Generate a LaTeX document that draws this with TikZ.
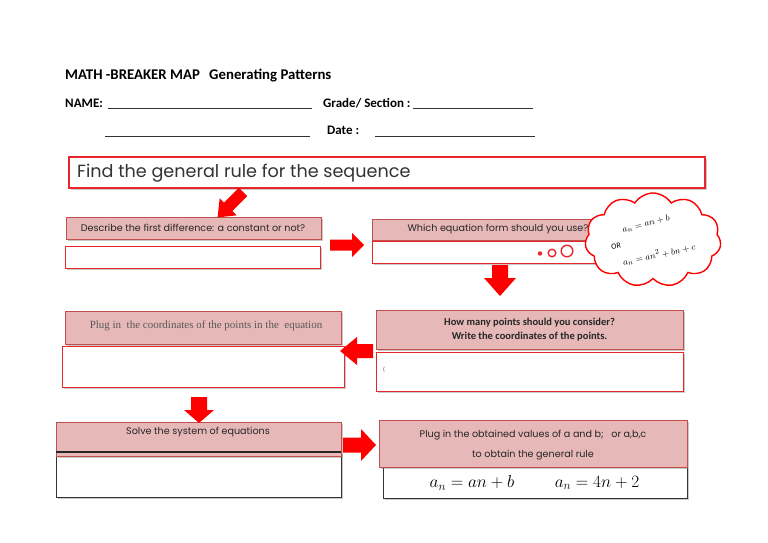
\documentclass[tikz,border=0pt]{standalone}
\usepackage{fontspec}
\setmainfont{Carlito}
\newfontfamily\gothic{Poppins}
\newfontfamily\serifgray{Liberation Serif}
\usetikzlibrary{shapes.symbols,shadows}
\definecolor{pinkfill}{HTML}{E6B8B7}
\definecolor{pinkline}{HTML}{C0504D}
\definecolor{boxred}{HTML}{E8262B}
\definecolor{arrowred}{HTML}{FF0000}
\newcommand\blockarrow[7]{%
  \fill[arrowred,shift={(#1,#2)},rotate=#3] (0,#7) -- ({#4-#5},#7) -- ({#4-#5},#6) -- (#4,0) -- ({#4-#5},-#6) -- ({#4-#5},-#7) -- (0,-#7) -- cycle;}
\begin{document}
\begin{tikzpicture}[x=1pt,y=-1pt,
  shd/.style={drop shadow={shadow xshift=1.5pt,shadow yshift=-1.5pt,opacity=0.35,fill=black!60}},
  boxbase/.style={anchor=north west,inner sep=0pt,outer sep=0pt},
  pinkbox/.style={boxbase,draw=pinkline,line width=1pt,fill=pinkfill,shd},
  whitebox/.style={boxbase,draw=boxred,line width=0.9pt,fill=white,shd},
  blackbox/.style={boxbase,draw=black!80,line width=1pt,fill=white,shd},
  hdr/.style={anchor=base west,inner sep=0pt,font=\bfseries\fontsize{14.8}{17}\selectfont},
  hdrs/.style={anchor=base west,inner sep=0pt,font=\bfseries\fontsize{13}{15}\selectfont},
  goth/.style={inner sep=0pt,font=\gothic\fontsize{9.6}{11}\selectfont,text=black!85},
  cal/.style={inner sep=0pt,font=\bfseries\fontsize{10.5}{14}\selectfont,align=center,text=black!85},
  uline/.style={line width=0.7pt,black!80}
]
\useasboundingbox (0,0) rectangle (768,543);
\fill[white] (0,0) rectangle (768,543);

% header
\node[hdr] (t1) at (65,80) {MATH -BREAKER MAP};
\node[hdr] (t2) at (209,80) {Generating Patterns};
\node[hdrs] (nm) at (65,107) {NAME:};
\coordinate (l1a) at (108,108); \coordinate (l1b) at (312,108);
\draw[uline] (l1a) -- (l1b);
\node[hdrs] (gs) at (323,107) {Grade/ Section :};
\coordinate (l2a) at (413,108); \coordinate (l2b) at (533,108);
\draw[uline] (l2a) -- (l2b);
\coordinate (l3a) at (105,136); \coordinate (l3b) at (310,136);
\draw[uline] (l3a) -- (l3b);
\node[hdrs] (dt) at (327,134) {Date :};
\coordinate (l4a) at (375,136); \coordinate (l4b) at (535,136);
\draw[uline] (l4a) -- (l4b);

% main box
\node[boxbase,draw=boxred,line width=1.8pt,fill=white,shd,minimum width=636pt,minimum height=31pt] (main) at (69,157) {};
\node[anchor=west,inner sep=0pt,font=\gothic\fontsize{17.6}{19}\selectfont,text=black!80] (maint) at (77,173) {Find the general rule for the sequence};

% row 1 left
\node[pinkbox,minimum width=255pt,minimum height=22pt] (desc) at (66,217) {};
\node[goth] at (193,228) {Describe the first difference: a constant or not?};
\node[whitebox,minimum width=255pt,minimum height=22pt] (descw) at (65,246) {};

% row 1 right
\node[pinkbox,minimum width=256pt,minimum height=21pt] (which) at (372,219) {};
\node[goth,anchor=center] at (498,229.5) {Which equation form should you use?};
\node[whitebox,minimum width=256pt,minimum height=22pt] (whichw) at (372,241) {};
\fill[boxred] (540,253.5) circle (2.2pt);
\draw[boxred,line width=1.4pt] (552,253) circle (3.8pt);
\draw[boxred,line width=1.4pt] (567,251) circle (5.8pt);

% cloud
\node[cloud,draw=red,line width=1.4pt,fill=white,cloud puffs=11,cloud puff arc=115,aspect=1.45,minimum width=136pt,minimum height=94pt,inner sep=0pt] (cloud) at (653,240) {};
\node[inner sep=0pt,rotate=14,font=\fontsize{9.5}{10}\selectfont] at (646,224) {$a_n = an + b$};
\node[inner sep=0pt,rotate=8,font=\fontsize{8}{9}\selectfont] at (616,246) {OR};
\node[inner sep=0pt,rotate=12,font=\fontsize{9.5}{10}\selectfont] at (659,254) {$a_n = an^2 + bn + c$};

% row 2 right
\node[pinkbox,minimum width=307pt,minimum height=39pt] (how) at (376,310) {};
\node[cal,anchor=center] at (how.center) {How many points should you consider?\\Write the coordinates of the points.};
\node[whitebox,minimum width=307pt,minimum height=39pt] (howw) at (376,352) {};
\node[inner sep=0pt,font=\fontsize{6}{7}\selectfont,text=black!70] at (384,370) {(};

% row 2 left
\node[pinkbox,minimum width=276pt,minimum height=33pt] (plug) at (65,311) {};
\node[inner sep=0pt,font=\serifgray\fontsize{11}{12}\selectfont,text=black!65] at (206,326) {Plug in\ \ the coordinates of the points in the\ \ equation};
\node[whitebox,minimum width=282pt,minimum height=41pt] (plugw) at (62,346) {};

% row 3 left
\node[blackbox,minimum width=285pt,minimum height=45pt] (solvew) at (56,452) {};
\node[pinkbox,minimum width=285pt,minimum height=34pt] (solve) at (56,422) {};
\draw[black!85,line width=1.2pt] (solvew.north west) -- (solvew.north east);
\node[goth] at (198,432) {Solve the system of equations};

% row 3 right
\node[blackbox,minimum width=304pt,minimum height=31pt] (resw) at (383,467) {};
\node[pinkbox,minimum width=308pt,minimum height=47pt] (res) at (379,420) {};
\node[goth] at (533,435) {Plug in the obtained values of a and b;\ \ \ or a,b,c};
\node[goth] at (533,455) {to obtain the general rule};
\node[inner sep=0pt,font=\fontsize{17}{19}\selectfont] at (472,483) {$a_n = an + b$};
\node[inner sep=0pt,font=\fontsize{17}{19}\selectfont] at (597,483) {$a_n = 4n + 2$};

% block arrows
\blockarrow{243}{192}{225}{36}{15}{12}{6}
\blockarrow{330}{245}{0}{34}{12}{12}{5.5}
\blockarrow{500}{265}{-90}{31}{18}{16}{8}
\blockarrow{373}{351}{180}{33}{17}{14}{7}
\blockarrow{199}{397}{-90}{26}{13}{15}{8}
\blockarrow{343}{445}{0}{33}{15}{16}{7.5}
\end{tikzpicture}
\end{document}
